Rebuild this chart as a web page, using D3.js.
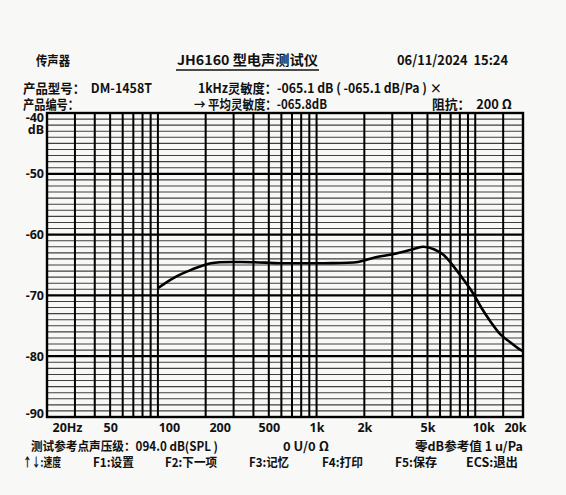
<!DOCTYPE html>
<html><head><meta charset="utf-8">
<script src="https://cdn.jsdelivr.net/npm/d3@7"></script>
<style>
html,body{margin:0;padding:0;background:#f8f8f7;}
svg{display:block;}
text{font-family:"Noto Sans CJK SC","Noto Sans",sans-serif;font-weight:bold;fill:#111;white-space:pre;}
</style></head><body>
<svg id="c" width="566" height="495"></svg>
<script>
// ---- data ----
const freqs = [100,126,162,216,333,596,796,1113,1823,2297,3070,3935,4680,5490,6350,7340,8490,9660,10860,12560,14520,16780,19400,20000];
const levels = [-68.8,-67.1,-65.8,-64.7,-64.5,-64.7,-64.7,-64.7,-64.5,-63.8,-63.2,-62.5,-62.0,-62.4,-63.4,-65.3,-67.5,-69.6,-71.9,-74.4,-76.5,-77.8,-79.0,-79.1];
const gridFreqs = [30,40,50,60,70,80,90,100,200,300,400,500,600,700,800,900,1000,2000,3000,4000,5000,6000,7000,8000,9000,10000,15000];
const xTickValues = [20,50,100,200,500,1000,2000,5000,10000,20000];
const xTickLabels = ["20Hz","50","100","200","500","1k","2k","5k","10k","20k"];
const yTickValues = [-40,-50,-60,-70,-80,-90];
const yTickLabels = ["-40","-50","-60","-70","-80","-90"];

const svg = d3.select("#c");
const x = d3.scaleLog().domain([20,20000]).range([47,523]);
const y = d3.scaleLinear().domain([-90,-40]).range([417,113]);

// minor horizontal lines (1 dB)
svg.append("g").selectAll("line").data(d3.range(-89,-40).filter(v=>v%10!==0)).join("line")
  .attr("x1",x.range()[0]).attr("x2",x.range()[1])
  .attr("y1",d=>y(d)).attr("y2",d=>y(d))
  .attr("stroke","#404040").attr("stroke-width",1.1);
// major horizontal
svg.append("g").selectAll("line").data([-50,-60,-70,-80]).join("line")
  .attr("x1",x.range()[0]).attr("x2",x.range()[1])
  .attr("y1",d=>y(d)).attr("y2",d=>y(d))
  .attr("stroke","#000").attr("stroke-width",2.2);
// vertical grid
svg.append("g").selectAll("line").data(gridFreqs).join("line")
  .attr("x1",d=>x(d)).attr("x2",d=>x(d))
  .attr("y1",y(-40)).attr("y2",y(-90))
  .attr("stroke","#000").attr("stroke-width",2);
// border
svg.append("rect").attr("x",x(20)).attr("y",y(-40))
  .attr("width",x(20000)-x(20)).attr("height",y(-90)-y(-40))
  .attr("fill","none").attr("stroke","#000").attr("stroke-width",2.4);

// curve
const line = d3.line().x((d,i)=>x(freqs[i])).y(d=>y(d)).curve(d3.curveCatmullRom);
svg.append("path").datum(levels).attr("d",line)
  .attr("fill","none").attr("stroke","#000").attr("stroke-width",2.6);

// x axis labels (printer places some labels a little right of their lines)
const labelShift = {100:11, 200:14, 10000:8};
const xa = d3.axisBottom(x).tickValues(xTickValues).tickFormat((d,i)=>xTickLabels[i]).tickSize(0).tickPadding(6);
const gx = svg.append("g").attr("transform",`translate(0,${y(-90)})`).call(xa);
gx.select(".domain").remove();
gx.selectAll("text").style("font-size","12.5px").style("font-family","'Noto Sans','Noto Sans CJK SC',sans-serif").style("font-weight","bold").attr("fill","#111")
  .attr("text-anchor",(d,i)=>i===0?"start":(i===xTickValues.length-1?"end":"middle"))
  .attr("dx",(d,i)=>i===0?"5":(i===xTickValues.length-1?"3":String(labelShift[d]||0)));

// y axis labels
const ya = d3.axisLeft(y).tickValues(yTickValues).tickFormat((d,i)=>yTickLabels[i]).tickSize(0).tickPadding(3);
const gy = svg.append("g").attr("transform",`translate(${x(20)},0)`).call(ya);
gy.select(".domain").remove();
gy.selectAll("text").style("font-size","12.5px").style("font-family","'Noto Sans',sans-serif").style("font-weight","bold").attr("fill","#111")
  .attr("dy",d=>d===-40?"0.7em":(d===-90?"0.05em":"0.32em"));
svg.append("text").attr("x",x(20)-3).attr("y",y(-40)+21).attr("text-anchor","end")
  .style("font-family","'Noto Sans',sans-serif").style("font-size","12.5px").text("dB");

// texts
function t(xp,yp,s,size,len,anchor){
  const el = svg.append("text").attr("x",xp).attr("y",yp).attr("text-anchor",anchor||"start").style("font-size",size+"px").text(s);
  if(len){el.attr("textLength",len).attr("lengthAdjust","spacingAndGlyphs");}
  return el;
}
t(36,65,"传声器",13,34);
t(177,65,"JH6160 型电声测试仪",13.5,141);
svg.append("line").attr("x1",176).attr("x2",319).attr("y1",70).attr("y2",70).attr("stroke","#111").attr("stroke-width",1.3);
t(397,65,"06/11/2024  15:24",13.5,111);
t(23,93,"产品型号：  DM-1458T",13,129);
t(198,93,"1kHz灵敏度：-065.1 dB ( -065.1 dB/Pa ) ×",13,244);
t(23,109,"产品编号：",13,56);
t(194,109,"→ 平均灵敏度：-065.8dB",13,133);
t(432,109,"阻抗：  200 Ω",13,80);

// footer
t(31,451,"测试参考点声压级：094.0 dB(SPL )",12.5,187);
t(283,451,"0 U/0 Ω",12.5,46);
t(415,451,"零dB参考值 1 u/Pa",12.5,108);
const keys = [["↑↓:速度",23,38],["F1:设置",93,41],["F2:下一项",165,52],["F3:记忆",249,40],["F4:打印",322,41],["F5:保存",395,42],["ECS:退出",466,52]];
keys.forEach(k=>t(k[1],467,k[0],12.5,k[2]));
</script>
</body></html>
